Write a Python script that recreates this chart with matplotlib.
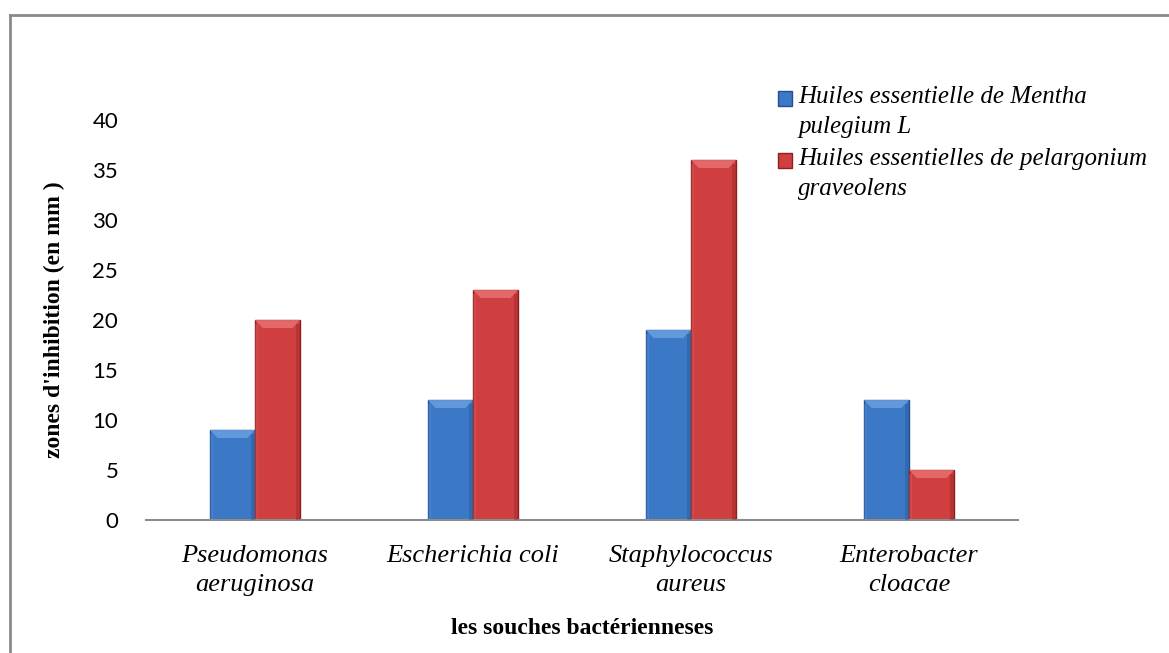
import numpy as np
import matplotlib.pyplot as plt
from matplotlib.patches import Rectangle, Polygon
from matplotlib.lines import Line2D

categories = ["Pseudomonas\naeruginosa", "Escherichia coli", "Staphylococcus\naureus", "Enterobacter\ncloacae"]
mentha = [9, 12, 19, 12]
pelargonium = [20, 23, 36, 5]
series_labels = ["Huiles essentielle de Mentha\npulegium L", "Huiles essentielles de pelargonium\ngraveolens"]
yticks = [0, 5, 10, 15, 20, 25, 30, 35, 40]

blue, blue_dark, blue_light = "#3b78c6", "#24508f", "#6a9fe0"
red, red_dark, red_light = "#cf3f3f", "#8e1f1f", "#e87070"

serif = "Liberation Serif"

fig = plt.figure(figsize=(11.69, 6.53), dpi=100)
ax = fig.add_axes([146 / 1169, 1 - 520 / 653, 872 / 1169, 400 / 653])

x = np.arange(len(categories))
w = 0.207


def bevel_bars(bars, light, dark):
    # fake Excel bevel: darker sides, lighter top
    for b in bars:
        x0, w0, h0 = b.get_x(), b.get_width(), b.get_height()
        dx = w0 * 0.17
        dy = 0.8
        ax.add_patch(Polygon([[x0, h0], [x0 + w0, h0], [x0 + w0 - dx, h0 - dy], [x0 + dx, h0 - dy]],
                             closed=True, facecolor=light, edgecolor="none", alpha=0.85, zorder=3))
        ax.add_patch(Rectangle((x0 + w0 - dx * 0.5, 0), dx * 0.5, h0 - dy * 0.5,
                               facecolor=dark, edgecolor="none", alpha=0.35, zorder=3))
        ax.add_patch(Rectangle((x0, 0), dx * 0.4, h0 - dy * 0.5,
                               facecolor=light, edgecolor="none", alpha=0.25, zorder=3))


b1 = ax.bar(x - w / 2, mentha, w, color=blue, edgecolor=blue_dark, linewidth=1, zorder=2)
b2 = ax.bar(x + w / 2, pelargonium, w, color=red, edgecolor=red_dark, linewidth=1, zorder=2)
bevel_bars(b1, blue_light, blue_dark)
bevel_bars(b2, red_light, red_dark)

ax.set_xlim(-0.5, len(categories) - 0.5)
ax.set_ylim(0, 40)
ax.set_yticks(yticks)
ax.set_yticklabels([str(t) for t in yticks], fontfamily="Lato", fontsize=16)
ax.set_xticks(x)
ax.set_xticklabels(categories, fontfamily=serif, fontstyle="italic", fontsize=19, linespacing=1.4)
ax.tick_params(axis="y", length=0, pad=20)
ax.tick_params(axis="x", length=0, pad=18)

for s in ["top", "right", "left"]:
    ax.spines[s].set_visible(False)
ax.spines["bottom"].set_color("#8c8c8c")
ax.spines["bottom"].set_linewidth(1.5)

ax.set_ylabel("zones d'inhibition (en mm )", fontfamily=serif, fontweight="bold", fontsize=17, labelpad=20)
ax.set_xlabel("les souches bactérienneses", fontfamily=serif, fontweight="bold", fontsize=17, labelpad=16)

# legend drawn by hand so the marker sits on the first line
leg_colors = [(blue, blue_dark), (red, red_dark)]
leg_base = [103, 165]
for (c, cd), lab, base in zip(leg_colors, series_labels, leg_base):
    fig.add_artist(Rectangle((778 / 1169, 1 - (base + 3) / 653), 14 / 1169, 15 / 653,
                             facecolor=c, edgecolor=cd, linewidth=1, transform=fig.transFigure))
    fig.text(798 / 1169, 1 - base / 653, lab.split("\n")[0], fontfamily=serif, fontstyle="italic",
             fontsize=18, va="baseline", ha="left")
    fig.text(798 / 1169, 1 - (base + 30) / 653, lab.split("\n")[1], fontfamily=serif, fontstyle="italic",
             fontsize=18, va="baseline", ha="left")

# chart border
fig.add_artist(Line2D([10 / 1169, 1.0], [1 - 15 / 653, 1 - 15 / 653], color="#8a8a8a", linewidth=2,
                      transform=fig.transFigure))
fig.add_artist(Line2D([10 / 1169, 10 / 1169], [1 - 15 / 653, 0], color="#8a8a8a", linewidth=2,
                      transform=fig.transFigure))

fig.savefig("out.png", dpi=100)
